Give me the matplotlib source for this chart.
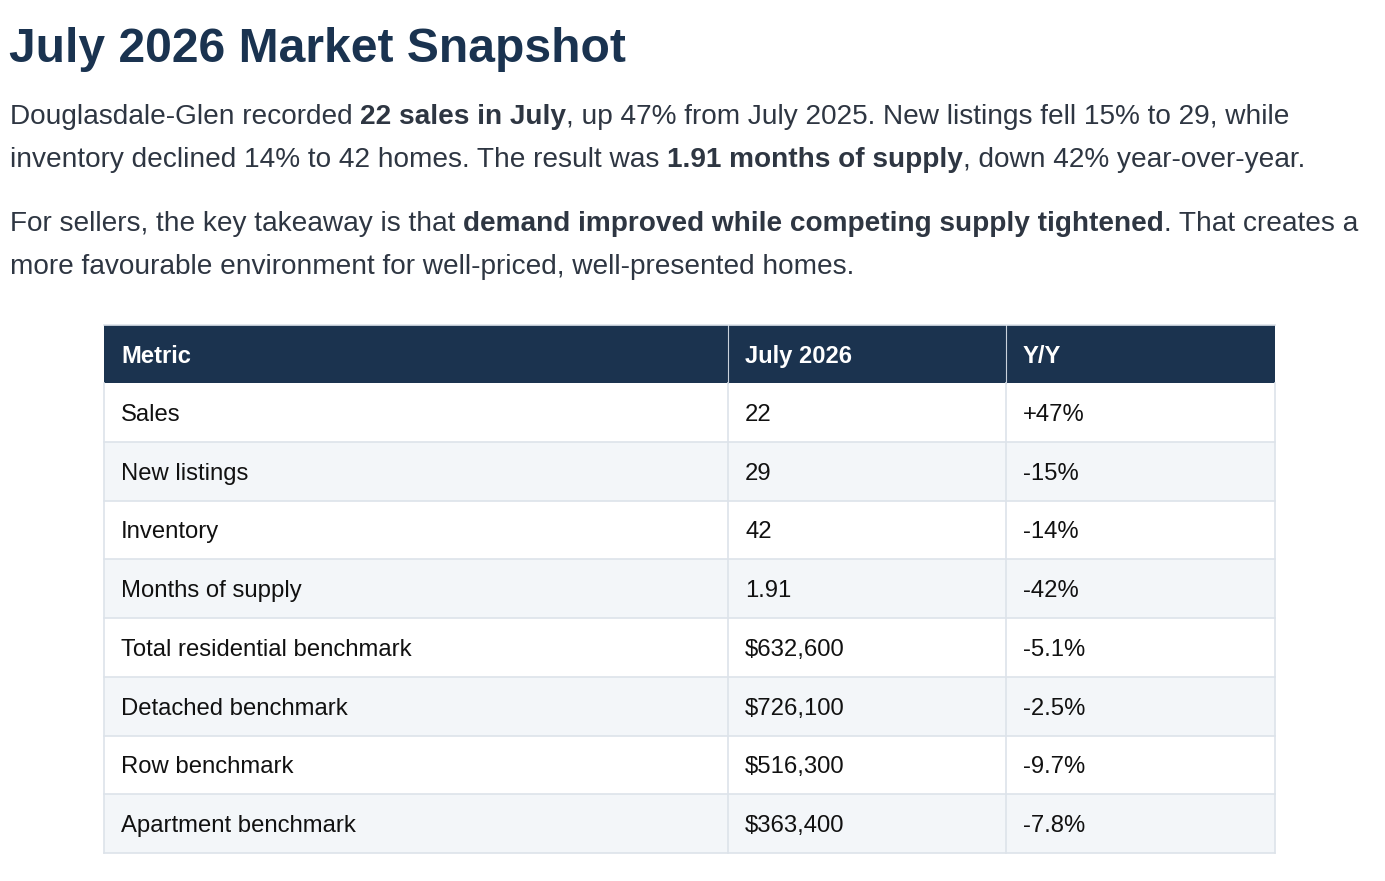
"""
July 2026 market snapshot: heading, two summary paragraphs and a metrics table.
Drawn on a single full-figure axes that uses pixel coordinates (y down).
"""

import matplotlib
matplotlib.use("Agg")
import matplotlib.pyplot as plt
from matplotlib.patches import Rectangle

plt.rcParams["font.family"] = ["Liberation Sans", "DejaVu Sans"]

# ── Data ─────────────────────────────────────────────────────────────────────
titulo = "July 2026 Market Snapshot"

# Each paragraph line is a list of (text, bold) runs
parrafos = [
    [
        [("Douglasdale-Glen recorded ", False), ("22 sales in July", True),
         (", up 47% from July 2025. New listings fell 15% to 29, while", False)],
        [("inventory declined 14% to 42 homes. The result was ", False),
         ("1.91 months of supply", True), (", down 42% year-over-year.", False)],
    ],
    [
        [("For sellers, the key takeaway is that ", False),
         ("demand improved while competing supply tightened", True),
         (". That creates a", False)],
        [("more favourable environment for well-priced, well-presented homes.", False)],
    ],
]

encabezados = ["Metric", "July 2026", "Y/Y"]
metricas = ["Sales", "New listings", "Inventory", "Months of supply",
            "Total residential benchmark", "Detached benchmark",
            "Row benchmark", "Apartment benchmark"]
valores = ["22", "29", "42", "1.91", "$632,600", "$726,100", "$516,300", "$363,400"]
variacion = ["+47%", "-15%", "-14%", "-42%", "-5.1%", "-2.5%", "-9.7%", "-7.8%"]

# ── Layout / style ───────────────────────────────────────────────────────────
ANCHO, ALTO = 1385, 881
C_TITULO = "#1a3350"
C_TEXTO = "#2e3642"
C_HEADER = "#1b334f"
C_ALT = "#f3f6f9"
C_BORDE = "#dde3ea"

COL_X = [104, 728, 1006, 1275]
TABLA_TOP = 325
ALTO_HEADER = 58
ALTO_FILA = 58.75
PAD = 17

fig = plt.figure(figsize=(ANCHO / 100, ALTO / 100), dpi=100)
ax = fig.add_axes([0, 0, 1, 1])
ax.set_xlim(0, ANCHO)
ax.set_ylim(ALTO, 0)
ax.axis("off")
renderer = fig.canvas.get_renderer()

# ── Heading ──────────────────────────────────────────────────────────────────
ax.text(9, 62, titulo, fontsize=34.6, fontweight="bold", color=C_TITULO,
        va="baseline", ha="left")

# ── Paragraphs (mixed bold runs placed one after another) ────────────────────
baselines = [[124, 167], [231, 274]]
for p, lineas in enumerate(parrafos):
    for l, runs in enumerate(lineas):
        x = 10
        for texto, negrita in runs:
            t = ax.text(x, baselines[p][l], texto, fontsize=20.15, color=C_TEXTO,
                        fontweight="bold" if negrita else "normal",
                        va="baseline", ha="left")
            bb = t.get_window_extent(renderer=renderer)
            x += bb.width

# ── Table ────────────────────────────────────────────────────────────────────
x0, x1 = COL_X[0], COL_X[-1]
ax.add_patch(Rectangle((x0, TABLA_TOP), x1 - x0, ALTO_HEADER,
                       facecolor=C_HEADER, edgecolor="none", zorder=1))
for j, h in enumerate(encabezados):
    ax.text(COL_X[j] + PAD, TABLA_TOP + ALTO_HEADER / 2, h, fontsize=17.1,
            fontweight="bold", color="white", va="center_baseline", ha="left",
            zorder=3)

filas_top = TABLA_TOP + ALTO_HEADER
for i, fila in enumerate(zip(metricas, valores, variacion)):
    y = filas_top + i * ALTO_FILA
    fondo = "white" if i % 2 == 0 else C_ALT
    ax.add_patch(Rectangle((x0, y), x1 - x0, ALTO_FILA, facecolor=fondo,
                           edgecolor="none", zorder=1))
    ax.plot([x0, x1], [y + ALTO_FILA, y + ALTO_FILA], color=C_BORDE, lw=1.2,
            zorder=2)
    for j, celda in enumerate(fila):
        ax.text(COL_X[j] + PAD, y + ALTO_FILA / 2, celda, fontsize=17.2,
                color="#111111", va="center_baseline", ha="left", zorder=3)

tabla_bottom = filas_top + len(metricas) * ALTO_FILA
# vertical borders
for k, cx in enumerate(COL_X):
    ax.plot([cx, cx], [filas_top, tabla_bottom], color=C_BORDE, lw=1.2, zorder=2)
    if 0 < k < len(COL_X) - 1:
        ax.plot([cx, cx], [TABLA_TOP, filas_top], color="#c9d2dc", lw=0.8,
                zorder=2)
ax.plot([x0, x1], [TABLA_TOP, TABLA_TOP], color=C_BORDE, lw=1.2, zorder=2)

fig.savefig("out.png", dpi=100, facecolor="white")
plt.close(fig)
